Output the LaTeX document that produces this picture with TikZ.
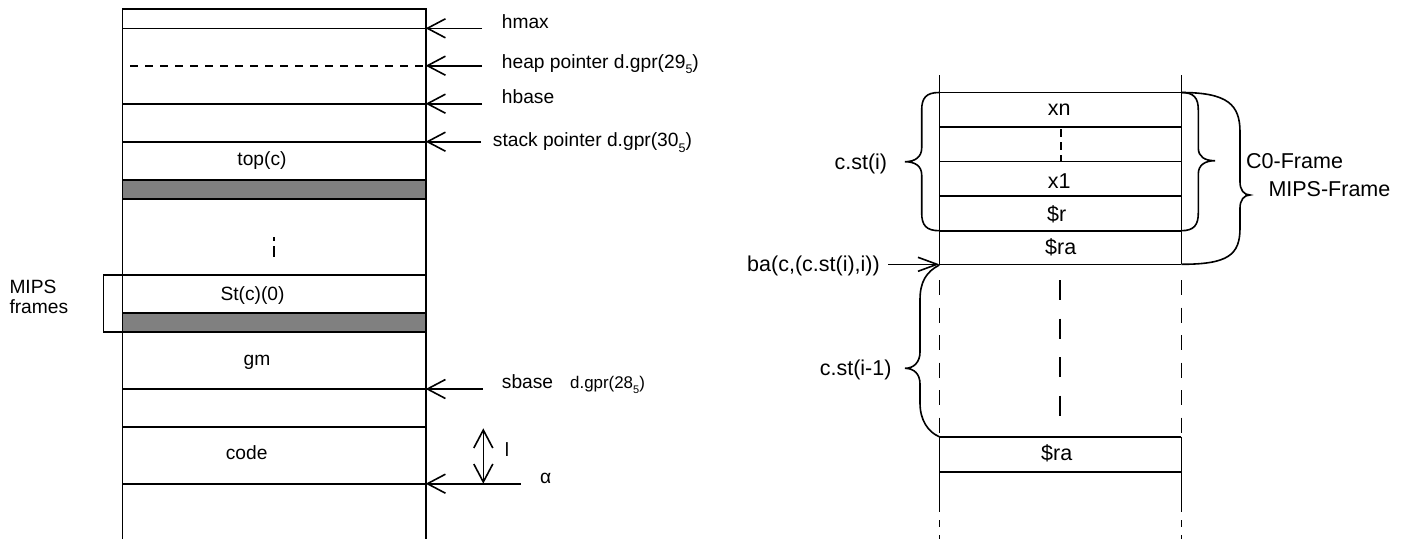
\documentclass[tikz,border=0pt]{standalone}
\usepackage{fontspec}
\setmainfont{Liberation Sans}
\usetikzlibrary{arrows.meta}
\newcommand\lsub[1]{\raisebox{-0.28em}{\fontsize{12.5}{13}\selectfont #1}}
\newcommand\ssub[1]{\raisebox{-0.28em}{\fontsize{11}{12}\selectfont #1}}
\tikzset{
  ln/.style={line width=1.6pt, line cap=butt},
  lf/.style={font=\fontsize{19.2}{20}\selectfont, inner sep=0pt},
  sf/.style={font=\fontsize{16.9}{19}\selectfont, inner sep=0pt},
  rf/.style={font=\fontsize{21.5}{25}\selectfont, inner sep=0pt},
  ptr/.style={ln, -{Straight Barb[length=18pt,width=19pt]}},
  dptr/.style={ln, {Straight Barb[length=18pt,width=19pt]}-{Straight Barb[length=18pt,width=19pt]}},
  bptr/.style={ln, -{Straight Barb[length=19pt,width=14pt]}},
  band/.style={ln, fill=black!50},
}
\begin{document}
\begin{tikzpicture}[x=1pt,y=-1pt]
\useasboundingbox (0,0) rectangle (1409,539);

% ---------- left column ----------
\def\L{122.3}\def\R{425.7}
\draw[ln] (\L,539) -- (\L,9) -- (\R,9) -- (\R,539);
\foreach \y in {28.3,103.7,141.7,274.7,389,427,483.7}
  \draw[ln] (\L,\y) -- (\R,\y);
\draw[band] (\L,180) rectangle (\R,199);
\draw[band] (\L,312.7) rectangle (\R,331.7);
\draw[ln, dash pattern=on 8.3pt off 6.7pt] (130,65.7) -- (\R,65.7);
\draw[ln, dash pattern=on 4pt off 5pt on 11pt] (274,237) -- (274,257);

\node[lf, anchor=base] (topc) at (262,165) {top(c)};
\node[lf, anchor=base] (st0) at (252.5,300) {St(c)(0)};
\node[lf, anchor=base] (gm) at (257,365.7) {gm};
\node[lf, anchor=base] (code) at (246.7,459.3) {code};

% MIPS frames bracket
\draw[ln] (\L,274.7) -| (103.3,331.7) -- (\L,331.7);
\node[lf, anchor=north west, align=left] (mipsf) at (9.3,280) {MIPS\\frames};

% pointers
\coordinate (t1) at (\R,28.3);  \coordinate (s1) at (482,28.3);
\coordinate (t2) at (\R,65.7);  \coordinate (s2) at (482,65.7);
\coordinate (t3) at (\R,103.7); \coordinate (s3) at (482,103.7);
\coordinate (t4) at (\R,141.7); \coordinate (s4) at (481,141.7);
\coordinate (t5) at (\R,389);   \coordinate (s5) at (482.7,389);
\coordinate (t6) at (\R,483.7); \coordinate (s6) at (520.7,483.7);
\foreach \i in {1,...,6} \draw[ptr] (s\i) -- (t\i);

\node[lf, anchor=base west] (hmax) at (501.7,28.3) {hmax};
\node[lf, anchor=base west] (heap) at (501.7,68) {heap pointer d.gpr(29\lsub{5})};
\node[lf, anchor=base west] (hbase) at (501.7,103.7) {hbase};
\node[lf, anchor=base west] (stp) at (492.7,146.7) {stack pointer d.gpr(30\lsub{5})};
\node[lf, anchor=base west] (sbase) at (501.7,388.5) {sbase};
\node[sf, anchor=base west] (gpr28) at (570,388.5) {d.gpr(28\ssub{5})};
\node[lf, anchor=base west] (alpha) at (540,483.5) {α};

\coordinate (la) at (483.3,428.3); \coordinate (lb) at (483.3,483.7);
\draw[dptr] (la) -- (lb);
\node[lf, anchor=center] (l) at (507,450) {l};

% ---------- right diagram ----------
\def\A{939.3}\def\B{1181.3}
\draw[ln] (\A,75) -- (\A,264.3);
\draw[ln] (\B,75) -- (\B,264.3);
\foreach \y in {92.5,126.7,161.3,195.8,230.7,264.3,436.7,471.7}
  \draw[ln] (\A,\y) -- (\B,\y);
\draw[ln, dash pattern=on 8pt off 5pt] (1060.7,129) -- (1060.7,161.3);

\node[rf, anchor=base] (xn) at (1059.3,115) {xn};
\node[rf, anchor=base] (x1) at (1059.3,188.3) {x1};
\node[rf, anchor=base] (rr) at (1056.7,221.7) {\$r};
\node[rf, anchor=base] (ra) at (1060.7,254.3) {\$ra};
\node[rf, anchor=base] (ra2) at (1056.7,460) {\$ra};

% dashed continuations
\draw[ln, dash pattern=on 15pt off 12.5pt] (\A,280) -- (\A,436.7);
\draw[ln, dash pattern=on 15pt off 12.5pt] (\B,280) -- (\B,436.7);
\draw[ln, dash pattern=on 20pt off 18.5pt] (1060,280) -- (1060,418);
\draw[ln] (\A,436.7) -- (\A,511.7);
\draw[ln] (\B,436.7) -- (\B,511.7);
\draw[ln, dash pattern=on 7pt off 8pt] (\A,520) -- (\A,539);
\draw[ln, dash pattern=on 7pt off 8pt] (\B,520) -- (\B,539);

% ba pointer
\coordinate (bt) at (\A,264.3); \coordinate (bs) at (888.3,264.3);
\draw[bptr] (bs) -- (bt);
\node[rf, anchor=base east] (ba) at (880,271) {ba(c,(c.st(i),i))};

% braces
\draw[ln] (\A,92.5) .. controls (926,92.5) and (921.7,98) .. (921.7,110)
  -- (921.7,148) .. controls (921.7,157) and (915,161.7) .. (905,161.7)
  .. controls (915,161.7) and (921.7,166) .. (921.7,175)
  -- (921.7,213) .. controls (921.7,225) and (926,230.7) .. (\A,230.7);
\node[rf, anchor=base east] (cst) at (887.3,169) {c.st(i)};

\draw[ln] (\A,265) .. controls (926,272) and (920,282) .. (920,300)
  -- (920,352) .. controls (920,362) and (914,368.3) .. (905,368.3)
  .. controls (914,368.3) and (920,374) .. (920,384)
  -- (920,403) .. controls (920,420) and (928,432) .. (\A,436.7);
\node[rf, anchor=base east] (cst1) at (891.7,375) {c.st(i-1)};

\draw[ln] (\B,92.5) .. controls (1194,92.5) and (1198.3,98) .. (1198.3,110)
  -- (1198.3,148) .. controls (1198.3,157) and (1205,160.7) .. (1215,160.7)
  .. controls (1205,160.7) and (1198.3,165) .. (1198.3,174)
  -- (1198.3,213) .. controls (1198.3,225) and (1194,230.7) .. (\B,230.7);
\node[rf, anchor=base west] (c0) at (1246,168.3) {C0-Frame};

\draw[ln] (\B,92.5) .. controls (1228,92.5) and (1240,105) .. (1240,132)
  -- (1240,182) .. controls (1240,190) and (1244,195) .. (1250,195)
  .. controls (1244,195) and (1240,200) .. (1240,208)
  -- (1240,228) .. controls (1240,255) and (1228,264.3) .. (\B,264.3);
\node[rf, anchor=base west] (mipsframe) at (1268.3,196.7) {MIPS-Frame};
\end{tikzpicture}
\end{document}
